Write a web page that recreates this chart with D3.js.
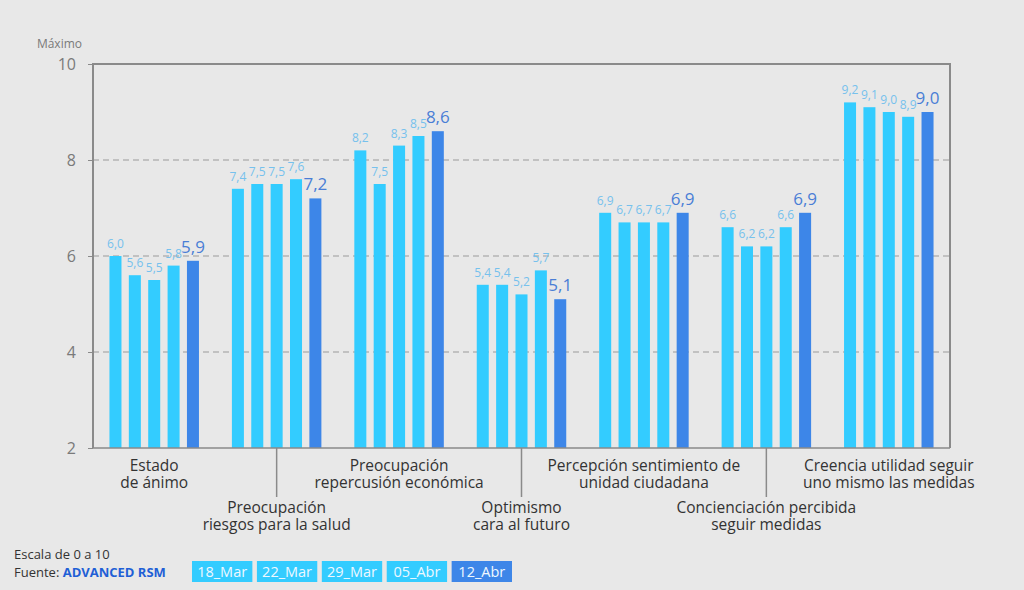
<!DOCTYPE html>
<html>
<head>
<meta charset="utf-8">
<script src="https://cdn.jsdelivr.net/npm/d3@7"></script>
<style>
  html, body { margin: 0; padding: 0; background: #e8e8e8; }
  svg { display: block; font-family: 'Open Sans', 'Noto Sans', sans-serif; }
</style>
</head>
<body>
<div id="chart"></div>
<script>
// --- Data ---
const categories = [
  ['Estado', 'de ánimo'],
  ['Preocupación', 'riesgos para la salud'],
  ['Preocupación', 'repercusión económica'],
  ['Optimismo', 'cara al futuro'],
  ['Percepción sentimiento de', 'unidad ciudadana'],
  ['Concienciación percibida', 'seguir medidas'],
  ['Creencia utilidad seguir', 'uno mismo las medidas']
];
const series = ['18_Mar', '22_Mar', '29_Mar', '05_Abr', '12_Abr'];
const values = [
  [6.0, 5.6, 5.5, 5.8, 5.9],
  [7.4, 7.5, 7.5, 7.6, 7.2],
  [8.2, 7.5, 8.3, 8.5, 8.6],
  [5.4, 5.4, 5.2, 5.7, 5.1],
  [6.9, 6.7, 6.7, 6.7, 6.9],
  [6.6, 6.2, 6.2, 6.6, 6.9],
  [9.2, 9.1, 9.0, 8.9, 9.0]
];
const yTicks = [2, 4, 6, 8, 10];

const COLORS = {
  bar: '#33ccff',
  barLast: '#3d86e8',
  label: '#76c1ed',
  labelLast: '#4a7ed6',
  frame: '#8a8a8a',
  grid: '#9a9a9a',
  tick: '#7a7a7a',
  text: '#333333',
  source: '#1f5fd6'
};

const W = 1024, H = 590;
const margin = { top: 64, right: 74, bottom: 142, left: 93 };
const innerW = W - margin.left - margin.right;
const innerH = H - margin.top - margin.bottom;

const svg = d3.select('#chart').append('svg')
  .attr('width', W).attr('height', H);

const g = svg.append('g')
  .attr('transform', `translate(${margin.left},${margin.top})`);

const x0 = d3.scaleBand().domain(d3.range(categories.length)).range([0, innerW]);
const x1 = d3.scaleBand().domain(series).range([0, x0.bandwidth()])
  .paddingInner(0.38).paddingOuter(0.85);
const y = d3.scaleLinear().domain([2, 10]).range([innerH, 0]);

const fmt = v => v.toFixed(1).replace('.', ',');

// Grid lines
g.selectAll('.grid')
  .data(yTicks.filter(t => t > 2 && t < 10))
  .enter().append('line')
  .attr('x1', 0).attr('x2', innerW)
  .attr('y1', d => y(d)).attr('y2', d => y(d))
  .attr('stroke', COLORS.grid)
  .attr('stroke-width', 1)
  .attr('stroke-dasharray', '6,4');

// Bars
const groups = g.selectAll('.group')
  .data(values)
  .enter().append('g')
  .attr('transform', (_, i) => `translate(${x0(i)},0)`);

const rows = d => d.map((v, j) => ({ v, s: series[j], last: j === series.length - 1 }));

groups.selectAll('rect')
  .data(rows)
  .enter().append('rect')
  .attr('x', d => x1(d.s))
  .attr('y', d => y(d.v))
  .attr('width', x1.bandwidth())
  .attr('height', d => innerH - y(d.v))
  .attr('fill', d => d.last ? COLORS.barLast : COLORS.bar);

groups.selectAll('text')
  .data(rows)
  .enter().append('text')
  .attr('x', d => x1(d.s) + x1.bandwidth() / 2)
  .attr('y', d => y(d.v) - 8)
  .attr('text-anchor', 'middle')
  .attr('fill', d => d.last ? COLORS.labelLast : COLORS.label)
  .attr('font-size', d => d.last ? '17px' : '12px')
  .text(d => fmt(d.v));

// Frame
g.append('path')
  .attr('d', `M0,${innerH}V0H${innerW}V${innerH}`)
  .attr('fill', 'none')
  .attr('stroke', COLORS.frame)
  .attr('stroke-width', 2);
g.append('line')
  .attr('x1', 0).attr('x2', innerW)
  .attr('y1', innerH).attr('y2', innerH)
  .attr('stroke', COLORS.frame)
  .attr('stroke-width', 1.5);

// Y axis
const yAxis = g.append('g')
  .call(d3.axisLeft(y).tickValues(yTicks).tickSize(5).tickPadding(12).tickFormat(d3.format('d')));
yAxis.select('.domain').remove();
yAxis.selectAll('line').attr('stroke', COLORS.frame);
yAxis.selectAll('text')
  .attr('fill', COLORS.tick)
  .attr('font-size', '16px')
  .attr('font-family', "'Open Sans', sans-serif");

g.append('text')
  .attr('x', -11).attr('y', -16)
  .attr('text-anchor', 'end')
  .attr('fill', COLORS.tick)
  .attr('font-size', '12px')
  .text('Máximo');

// Category labels (staggered)
categories.forEach((lines, i) => {
  const cx = x0(i) + x0.bandwidth() / 2;
  const low = i % 2 === 1;
  const base = low ? 65 : 23;
  if (low) {
    g.append('line')
      .attr('x1', cx).attr('x2', cx)
      .attr('y1', innerH).attr('y2', innerH + 49)
      .attr('stroke', COLORS.frame)
      .attr('stroke-width', 1.5);
  }
  const t = g.append('text')
    .attr('x', cx)
    .attr('y', innerH + base)
    .attr('text-anchor', 'middle')
    .attr('fill', COLORS.text)
    .attr('font-size', '15.5px');
  lines.forEach((s, k) => {
    t.append('tspan')
      .attr('x', cx)
      .attr('dy', k === 0 ? 0 : 17)
      .text(s);
  });
});

// Footer
svg.append('text')
  .attr('x', 14).attr('y', 559)
  .attr('fill', COLORS.text)
  .attr('font-size', '13px')
  .text('Escala de 0 a 10');
const src = svg.append('text')
  .attr('x', 14).attr('y', 577)
  .attr('fill', COLORS.text)
  .attr('font-size', '13px');
src.append('tspan').text('Fuente: ');
src.append('tspan').attr('fill', COLORS.source).attr('font-weight', 'bold').text('ADVANCED RSM');

// Legend
const lx = d3.scaleBand().domain(series).range([192, 512]).paddingInner(0.07);
const legend = svg.append('g');
legend.selectAll('rect')
  .data(series).enter().append('rect')
  .attr('x', d => lx(d)).attr('y', 561)
  .attr('width', lx.bandwidth()).attr('height', 21)
  .attr('fill', (d, i) => i === series.length - 1 ? COLORS.barLast : COLORS.bar);
legend.selectAll('text')
  .data(series).enter().append('text')
  .attr('x', d => lx(d) + lx.bandwidth() / 2).attr('y', 577)
  .attr('text-anchor', 'middle')
  .attr('fill', '#eef8ff')
  .attr('font-size', '14.5px')
  .text(d => d);
</script>
</body>
</html>
